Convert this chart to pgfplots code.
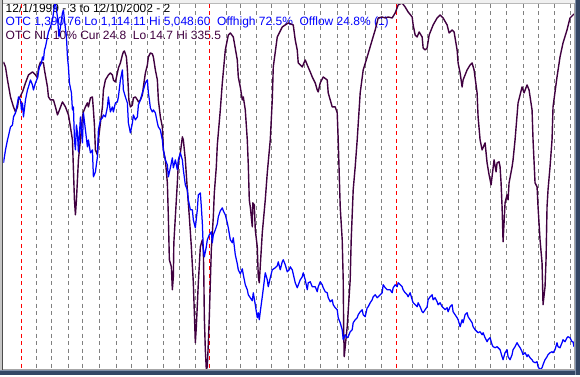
\documentclass[border=0pt]{standalone}
\usepackage{pgfplots}
\pgfplotsset{compat=1.18}
\usepackage{fontspec}
\setmainfont{Liberation Sans}
\definecolor{otcblue}{RGB}{0,0,255}
\definecolor{nlpurple}{RGB}{64,0,64}
\definecolor{gridgray}{RGB}{128,128,128}
\definecolor{steel}{RGB}{52,70,100}
\definecolor{steellight}{RGB}{130,145,170}
\pgfplotstableread{
x y
3 62
5 67
7 80
10 97
13 107
15 112
17 107
18 100
22 92
25 83
28 75
32 72
35 75
37 78
38 68
40 62
43 63
44 70
47 87
48 97
50 100
53 100
55 107
57 115
59 110
62 102
65 107
68 115
70 127
72 140
73 170
74 200
75 215
76 200
77 180
78 160
80 140
82 117
83 112
85 107
87 103
88 107
90 98
92 97
93 110
94 125
95 150
97 155
98 140
100 123
102 107
103 90
105 80
108 75
110 73
112 75
113 80
115 82
117 73
118 68
120 63
122 55
123 52
124 51
126 57
127 70
128 90
128.5 100
130 107
132 105
133 98
135 97
137 100
138 102
140 100
142 95
143 87
145 73
147 65
148 57
150 53
152 54
153 57
155 70
157 80
158 100
160 117
162 127
163 150
165 160
167 183
168 217
169 260
171 267
172 290
173 277
173.5 243
175 217
177 183
178 163
180 153
182 137
183 140
185 160
187 190
189 217
191 247
193 283
194 313
195 343
196 327
198 283
200 247
202 240
203 250
203.5 277
204 317
205 350
206 370
207 367
208 343
209 317
210 283
211 250
213 217
214 193
216 167
217 145
220 110
222 83
225 50
228 35
230 33
233 37
237 60
238 77
240 87
242 100
243 97
245 110
247 140
248 165
249 200
250 207
252 227
252.5 203
254 205
255 230
257 247
258 277
259 283
262 233
265 200
267 173
270 140
272 100
273 67
277 37
282 27
288 23
293 25
295 40
297 50
298 63
302 67
305 60
307 65
310 72
312 77
315 83
317 90
318 92
320 83
323 77
327 80
328 93
330 100
332 107
335 107
337 113
338 140
340 207
342 240
343 280
343.5 330
344 357
347 327
350 280
351 240
353 190
355 167
357 140
360 93
363 70
367 57
372 40
375 30
378 18
382 17
385 18
388 17
392 18
395 13
398 5
402 3
405 7
408 12
412 17
413 25
415 35
417 37
419 32
422 37
423 48
425 50
427 48
429 35
433 25
437 18
440 15
443 18
447 25
449 33
452 30
454 32
457 50
458 63
460 73
462 87
463 80
467 70
470 65
472 63
474 70
477 93
478 117
480 140
482 150
485 143
487 163
489 175
491 185
494 160
496 172
497 163
499 162
500 167
501 183
502 207
503 242
505 203
507 195
508 200
509 183
512 167
513 160
515 140
518 103
522 87
524 93
527 85
529 90
532 110
533 140
535 183
537 187
538 207
540 240
542 263
543 305
545 287
546 260
547 207
548 190
550 167
552 140
553 107
557 77
560 57
563 43
567 30
570 18
573 15
574 14
}\nldata
\pgfplotstableread{
x y
3 163
5 150
7 140
8 136
10 127
12 125
13 117
15 113
17 103
18 97
20 100
21 110
22 103
23 117
25 100
27 90
28 87
30 80
32 85
33 90
35 83
37 78
38 72
39 67
41 63
42 57
43 60
44 50
45 47
47 37
48 32
50 27
52 20
53 13
54 5
55 3
57 17
58 30
58.5 37
60 27
62 13
63 10
64 20
66 37
67 57
68 67
69 83
71 93
72 110
73 107
74 140
75 150
76 125
77 133
78 152
80 117
82 143
83 113
85 130
87 147
88 140
90 153
92 150
93 177
95 172
97 157
98 130
100 120
102 118
103 115
105 117
107 107
108 97
110 112
112 107
113 112
115 103
117 102
118 97
120 80
122 70
123 90
125 97
127 103
128 123
130 133
132 123
133 115
135 120
137 117
138 105
140 100
142 93
143 90
145 83
147 80
148 93
149 100
150 108
152 112
153 110
155 113
157 123
158 127
160 130
162 140
163 150
165 160
167 165
168 177
170 168
172 158
173 168
175 160
177 170
178 160
180 153
182 160
183 170
185 185
187 190
188 200
190 210
192 210
193 220
195 228
197 210
198 195
200 193
201 207
202 223
203 250
204 257
206 247
207 240
209 235
211 232
212 243
213 235
215 230
217 224
218 217
220 211
222 208
223 211
225 215
227 223
228 228
230 240
232 243
233 238
235 255
237 264
238 270
240 274
242 269
243 275
245 285
247 290
248 295
250 298
252 301
253 293
255 305
257 318
258 313
259 320
260 312
262 297
265 273
267 280
268 287
270 278
272 270
275 268
277 266
278 262
280 270
282 262
283 260
285 265
287 272
289 270
290 267
292 270
295 283
297 288
300 280
302 277
303 273
305 280
307 290
308 283
310 282
312 287
315 287
317 292
318 287
320 282
322 285
323 288
325 292
327 293
328 298
330 302
332 300
333 305
335 308
337 310
338 318
340 323
342 330
343 340
345 335
347 338
348 337
350 332
352 330
353 323
355 320
357 318
358 315
360 312
362 310
363 315
365 317
367 308
368 307
370 303
372 300
373 297
375 295
377 298
380 295
382 293
383 285
385 288
387 290
390 290
392 293
393 288
395 285
397 287
398 283
400 285
402 287
403 290
405 293
407 295
408 297
410 293
412 300
413 303
417 307
418 303
420 307
422 312
423 313
425 310
427 307
428 300
430 297
432 295
433 300
435 298
437 302
438 305
440 303
442 307
443 308
445 310
447 308
448 312
450 307
452 305
453 312
455 315
457 318
458 320
460 327
462 320
463 323
465 315
467 313
468 317
470 320
472 323
473 327
475 330
477 332
478 333
480 332
482 335
483 333
485 338
487 342
488 340
490 338
492 345
493 347
495 348
497 347
498 348
500 350
502 357
503 360
505 353
507 350
508 357
510 360
512 355
513 350
515 347
517 343
518 345
520 348
522 352
523 355
525 353
527 357
528 355
530 358
532 360
533 362
535 363
537 362
538 367
540 370
542 368
543 365
545 360
547 357
548 355
550 353
552 352
553 353
555 350
557 343
558 347
560 348
562 343
563 340
565 342
567 338
568 337
570 338
572 342
573 342
574 347
}\otcdata
\begin{document}
\begin{tikzpicture}
\fill[white] (0,0) rectangle (580pt,375pt);
\begin{scope}[every node/.style={anchor=base west, inner sep=0pt, font=\fontsize{12}{13}\selectfont}]
\node[black] at (5pt,362.7pt) {12/1/1999 - 3 to 12/10/2002 - 2};
\node[otcblue] at (5pt,349pt) {OTC 1,390.76 Lo 1,114.11 Hi 5,048.60\ \ Offhigh 72.5\%\ \ Offlow 24.8\% (1)};
\node[nlpurple] at (5pt,335.7pt) {OTC NL 10\% Cur 24.8\ \ Lo 14.7 Hi 335.5};
\end{scope}
\begin{axis}[
  at={(3pt,5pt)}, anchor=south west,
  width=571.5pt, height=366pt, scale only axis,
  xmin=3, xmax=574.5, ymin=4, ymax=370, y dir=reverse,
  axis line style={draw=none}, tick style={draw=none},
  xtick={35.7,50.7,67.7,81.7,98.7,115.7,130.7,146.7,162.7,179.3,194.7,225.7,240.7,256.7,271.7,288.5,304.3,320.5,337.7,348.5,365.7,381,412.3,427.7,442.7,458.3,475,490.5,506.7,523.3,538.8,554.8,570.8},
  xticklabels={}, ytick=\empty,
  xmajorgrids,
  major grid style={gridgray, line width=1pt, dash pattern=on 4pt off 3.5pt},
  extra x ticks={20.7,209.3,396.5},
  extra x tick labels={},
  extra x tick style={grid=major, major grid style={red, line width=1pt, dash pattern=on 4pt off 3.5pt}},
  clip=true,
]
\addplot[color=nlpurple, line width=1.4pt, line join=round, no marks] table[x=x,y=y] {\nldata};
\addplot[color=otcblue, line width=1.25pt, line join=round, no marks] table[x=x,y=y] {\otcdata};
\end{axis}
% window frame
\fill[gray!12] (0,372pt) rectangle (580pt,375pt);
\draw[gray!55, line width=1pt] (0,371.5pt) -- (575pt,371.5pt);
\fill[gray!45] (0,0) rectangle (1.3pt,375pt);
\fill[black!70] (1.3pt,0) rectangle (2.8pt,375pt);
\fill[steel] (0,0) rectangle (580pt,4pt);
\fill[steellight] (0,3.5pt) rectangle (580pt,4.5pt);
\draw[gray!70, line width=1pt] (3pt,5pt) -- (575pt,5pt);
\fill[steel] (575.5pt,0) rectangle (580pt,375pt);
\fill[steellight] (575pt,0) rectangle (576.3pt,375pt);
\draw[gray!70, line width=1pt] (574.8pt,5pt) -- (574.8pt,372pt);
\end{tikzpicture}
\end{document}
